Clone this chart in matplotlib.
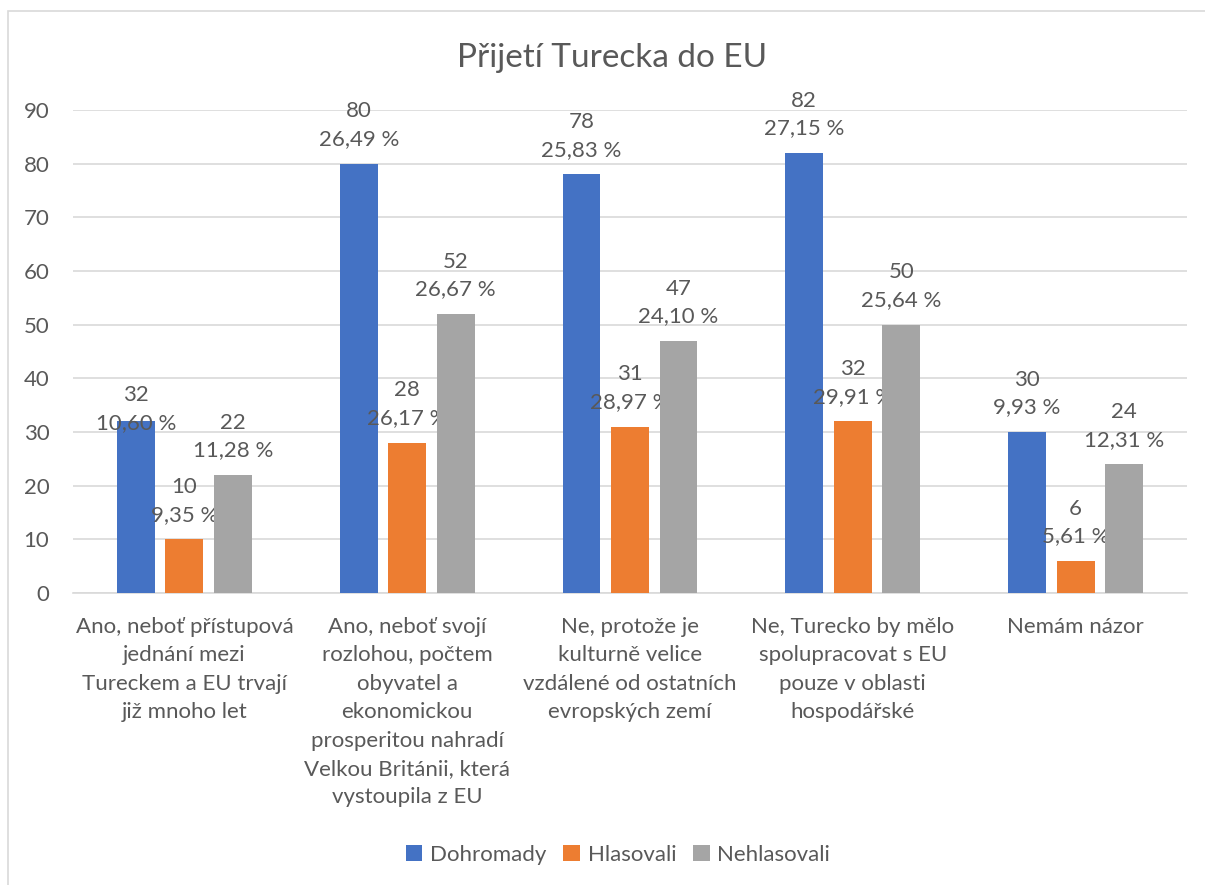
import numpy as np
import matplotlib.pyplot as plt
from matplotlib.patches import Rectangle

plt.rcParams['font.family'] = ['Lato', 'DejaVu Sans']

# data
categories = [
    "Ano, neboť přístupová\njednání mezi\nTureckem a EU trvají\njiž mnoho let",
    "Ano, neboť svojí\nrozlohou, počtem\nobyvatel a\nekonomickou\nprosperitou nahradí\nVelkou Británii, která\nvystoupila z EU",
    "Ne, protože je\nkulturně velice\nvzdálené od ostatních\nevropských zemí",
    "Ne, Turecko by mělo\nspolupracovat s EU\npouze v oblasti\nhospodářské",
    "Nemám názor",
]
series = ["Dohromady", "Hlasovali", "Nehlasovali"]
dohromady = [32, 80, 78, 82, 30]
hlasovali = [10, 28, 31, 32, 6]
nehlasovali = [22, 52, 47, 50, 24]
pct_dohromady = ["10,60 %", "26,49 %", "25,83 %", "27,15 %", "9,93 %"]
pct_hlasovali = ["9,35 %", "26,17 %", "28,97 %", "29,91 %", "5,61 %"]
pct_nehlasovali = ["11,28 %", "26,67 %", "24,10 %", "25,64 %", "12,31 %"]

colors = ["#4472C4", "#ED7D31", "#A5A5A5"]
text_col = "#595959"
fs = 16

fig = plt.figure(figsize=(12.05, 8.85), dpi=100)
ax = fig.add_axes([73 / 1205, 1 - 593 / 885, (1187 - 73) / 1205, (593 - 110) / 885])

# chart border like excel
fig.patches.append(Rectangle((8 / 1205, -0.1), 1.2, 1 - 11 / 885 + 0.1,
                             transform=fig.transFigure, fill=False,
                             edgecolor="#D9D9D9", linewidth=1.2))

x = np.arange(len(categories))
w = 0.17
step = 0.2177
values = [dohromady, hlasovali, nehlasovali]
pcts = [pct_dohromady, pct_hlasovali, pct_nehlasovali]

for i, (vals, pc) in enumerate(zip(values, pcts)):
    bars = ax.bar(x + (i - 1) * step, vals, w, color=colors[i], label=series[i], zorder=3)
    for j, b in enumerate(bars):
        dy = 10.5
        if i == 0 and j == 0:
            dy = -8.5  # this label sits lower in the original
        ax.annotate(f"{vals[j]}\n{pc[j]}", (b.get_x() + b.get_width() / 2, b.get_height()),
                    xytext=(0, dy), textcoords="offset points", ha="center", va="bottom",
                    fontsize=fs, color=text_col, linespacing=1.48)

ax.set_xlim(-0.5, 4.5)
ax.set_ylim(0, 90)
ax.set_yticks(range(0, 91, 10))
ax.set_xticks(x)
ax.set_xticklabels(categories, fontsize=fs, color=text_col, linespacing=1.53, va="top")
ax.tick_params(axis="y", labelsize=fs, labelcolor=text_col, length=0, pad=17)
ax.tick_params(axis="x", length=0, pad=17)
ax.grid(axis="y", color="#D9D9D9", linewidth=1.2, zorder=0)
for s in ["top", "right", "left"]:
    ax.spines[s].set_visible(False)
ax.spines["bottom"].set_color("#D9D9D9")
ax.spines["bottom"].set_linewidth(1.2)

fig.text(612 / 1205, 1 - 58 / 885, "Přijetí Turecka do EU", ha="center", va="center",
         fontsize=24, color=text_col)

fig.legend(loc="center", bbox_to_anchor=(618 / 1205, 1 - 855 / 885), ncol=3, frameon=False,
           fontsize=fs, labelcolor=text_col, handlelength=0.75, handleheight=0.75,
           handletextpad=0.35, columnspacing=0.75)

fig.savefig("out.png", dpi=100)
